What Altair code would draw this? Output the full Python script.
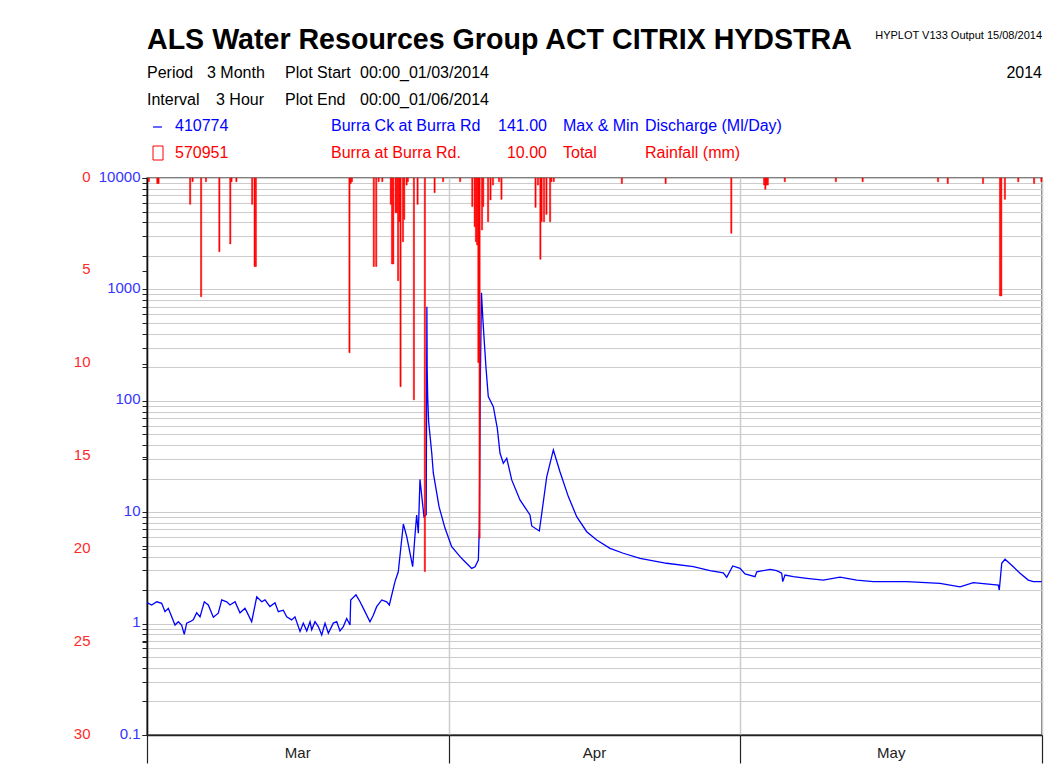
import math
import altair as alt
import pandas as pd

START = pd.Timestamp("2014-03-01T00:00:00")

# Discharge (Ml/Day), station 410774, day offset from 00:00 01/03/2014
flow_day = [0.0, 0.48, 1.0, 1.51, 1.85, 2.19, 2.54, 2.88, 3.22, 3.56,
            3.83, 4.08, 4.42, 4.76, 5.11, 5.45, 5.89, 6.30, 6.82, 7.33,
            7.68, 8.19, 8.53, 9.05, 9.56, 10.07, 10.25, 10.76, 11.28, 11.79,
            12.13, 12.64, 13.16, 13.50, 14.01, 14.36, 14.87, 15.21, 15.73, 16.07,
            16.42, 16.76, 16.93, 17.27, 17.61, 17.96, 18.30, 18.64, 19.15, 19.50,
            19.84, 20.18, 20.53, 20.87, 20.94, 21.48, 21.90, 22.24, 22.92, 23.26,
            23.61, 24.13, 24.64, 24.91, 25.49, 25.83, 26.35, 26.70, 27.31, 27.55,
            27.72, 27.89, 28.06, 28.47, 28.70, 28.77, 28.80, 28.85, 28.95, 29.27,
            29.43, 30.02, 30.63, 31.32, 32.18, 32.51, 33.38, 33.72, 34.06, 34.16,
            34.25, 34.38, 34.51, 34.67, 34.85, 35.08, 35.60, 36.01, 36.29, 36.63,
            36.98, 37.49, 38.34, 39.37, 39.55, 40.33, 41.09, 41.77, 42.45, 43.31,
            44.17, 45.20, 46.23, 47.59, 48.96, 50.68, 53.42, 56.16, 57.87, 59.24,
            59.59, 60.21, 60.96, 61.47, 62.50, 62.68, 64.05, 64.73, 65.24, 65.35,
            65.58, 66.44, 67.82, 69.52, 71.24, 72.95, 74.66, 78.09, 81.52, 83.57,
            84.94, 87.51, 87.61, 87.86, 88.20, 89.05, 89.74, 90.59, 91.11, 91.97]
flow_mld = [1.54, 1.47, 1.57, 1.52, 1.28, 1.37, 1.15, 0.97, 1.04, 0.97,
            0.80, 1.01, 1.04, 1.08, 1.25, 1.15, 1.57, 1.47, 1.14, 1.24,
            1.63, 1.57, 1.47, 1.57, 1.25, 1.37, 1.28, 1.04, 1.74, 1.57,
            1.63, 1.42, 1.54, 1.28, 1.32, 1.15, 1.08, 1.15, 0.85, 1.01,
            0.86, 1.04, 0.88, 1.04, 0.94, 0.79, 1.01, 0.82, 1.01, 1.04,
            0.86, 0.94, 1.11, 0.97, 1.63, 1.81, 1.57, 1.37, 1.04, 1.19,
            1.42, 1.63, 1.57, 1.47, 2.38, 2.92, 7.84, 6.03, 3.24, 6.24,
            9.44, 6.47, 19.7, 9.12, 9.5, 700, 196, 110, 65, 34,
            22.5, 11.2, 7.2, 4.9, 3.99, 3.72, 3.13, 3.24, 3.72, 7.16,
            117, 933, 569, 340, 196, 109, 88.5, 56.6, 33.8, 27.5,
            30.5, 19.5, 12.9, 9.44, 7.52, 6.78, 20.8, 36.2, 23.1, 13.8,
            9.12, 6.68, 5.62, 4.74, 4.28, 3.85, 3.48, 3.24, 2.99, 2.86,
            2.61, 3.29, 3.13, 2.79, 2.64, 2.92, 3.07, 2.99, 2.83, 2.38,
            2.73, 2.64, 2.55, 2.46, 2.61, 2.46, 2.38, 2.38, 2.30, 2.14,
            2.33, 2.22, 2.00, 3.48, 3.78, 3.24, 2.83, 2.46, 2.38, 2.38]

# Rainfall (mm) 3-hour totals, station 570951, day offset
rain_day = [0.13, 1.0, 1.15, 4.42, 4.66, 5.55, 6.06, 7.40, 8.53, 8.7,
            9.2, 10.83, 11.0, 11.15, 20.87, 20.95, 21.1, 23.37, 23.5, 23.75,
            24.2, 25.05, 25.2, 25.35, 25.5, 25.65, 25.77, 25.9, 26.08, 26.25,
            26.38, 26.7, 26.85, 27.45, 27.79, 28.58, 29.6, 30.46, 32.18, 33.48,
            33.65, 33.78, 33.9, 34.02, 34.18, 34.4, 34.57, 35.08, 35.26, 35.5,
            36.22, 36.46, 39.95, 40.2, 40.4, 40.57, 40.8, 41.0, 41.43, 41.6,
            41.75, 48.8, 53.35, 60.0, 63.4, 63.5, 63.65, 63.8, 65.5, 70.8,
            73.57, 81.35, 82.37, 85.97, 87.7, 87.82, 88.2, 89.57, 91.18, 91.9]
rain_mm = [0.2, 0.3, 0.3, 1.42, 0.2, 6.39, 0.2, 3.97, 3.55, 0.2,
           0.2, 1.42, 4.77, 4.77, 9.41, 0.3, 0.2, 4.77, 4.77, 0.2,
           0.2, 1.42, 4.63, 4.63, 1.87, 1.87, 5.53, 2.35, 11.24, 3.43,
           2.23, 0.38, 0.2, 11.95, 1.42, 21.2, 0.79, 0.2, 0.2, 1.54,
           2.62, 3.43, 3.61, 9.94, 19.4, 2.8, 1.54, 2.35, 1.18, 0.38,
           0.2, 1.15, 1.58, 0.38, 4.38, 2.35, 2.35, 1.96, 2.35, 0.2,
           0.2, 0.3, 0.3, 2.98, 0.38, 0.61, 0.38, 0.38, 0.2, 0.2,
           0.2, 0.2, 0.3, 0.3, 6.35, 6.35, 1.15, 0.2, 0.3, 0.2]

months = ["Mar", "Apr", "May"]
month_mid_day = [15.5, 46.0, 76.5]
flow_ticks = [round(m * 10.0 ** e, 6) for e in range(-1, 4) for m in range(1, 10)] + [10000]
rain_ticks = [0, 5, 10, 15, 20, 25, 30]

FONT = "Liberation Sans"
BLUE = "#0000ff"
RED = "#ff0000"

flow = pd.DataFrame({
    "time": [START + pd.Timedelta(days=d) for d in flow_day],
    "q": flow_mld,
})
rain = pd.DataFrame({
    "t0": [START + pd.Timedelta(hours=3 * math.floor(d * 8)) for d in rain_day],
    "t1": [START + pd.Timedelta(hours=3 * math.floor(d * 8) + 3) for d in rain_day],
    "mm": rain_mm,
})
mon = pd.DataFrame({
    "mid": [START + pd.Timedelta(days=d) for d in month_mid_day],
    "m": months,
})

edges = [alt.DateTime(year=2014, month=m, date=1, hours=0) for m in (3, 4, 5, 6)]
xscale = alt.Scale(domain=[edges[0], edges[-1]])
xaxis = alt.Axis(values=edges, labels=False, title=None, tickSize=28, tickColor="#222222",
                 tickWidth=1.2, domainColor="#222222", domainWidth=1.5, grid=True,
                 gridColor="#cccccc", gridWidth=1.5)

flow_axis = alt.Axis(
    values=flow_ticks, orient="left", title=None,
    labelExpr="abs(log(datum.value)/LN10 - round(log(datum.value)/LN10)) < 0.001 ? (datum.value < 1 ? '0.1' : format(datum.value, 'd')) : ''",
    labelColor="#3535ff", labelFont=FONT, labelFontSize=15, labelPadding=2,
    labelOverlap=False, labelBound=False, labelOffset=-2,
    tickSize=5, tickColor="#222222", tickWidth=1,
    domainColor="#111111", domainWidth=1.5,
    grid=True, gridColor="#cccccc", gridWidth=1.2,
)
rain_axis = alt.Axis(
    values=rain_ticks, orient="left", title=None,
    labelColor="#ff2a2a", labelFont=FONT, labelFontSize=15, labelPadding=52,
    labelOverlap=False, labelOffset=-2,
    tickSize=5, tickColor="#222222", tickWidth=1, domain=False, grid=False,
)

flow_line = alt.Chart(flow).mark_line(color=BLUE, strokeWidth=1.3).encode(
    x=alt.X("time:T", scale=xscale, axis=xaxis),
    y=alt.Y("q:Q", scale=alt.Scale(type="log", domain=[0.1, 10000]), axis=flow_axis),
)
rain_bars = alt.Chart(rain).mark_rect(color=RED, stroke=RED, strokeWidth=0.5).encode(
    x=alt.X("t0:T", scale=xscale, axis=xaxis),
    x2="t1:T",
    y=alt.Y("mm:Q", scale=alt.Scale(domain=[0, 30], reverse=True), axis=rain_axis),
    y2=alt.datum(0),
)
month_text = alt.Chart(mon).mark_text(font=FONT, fontSize=15, color="#222222",
                                      baseline="middle", align="center").encode(
    x=alt.X("mid:T", scale=xscale, axis=xaxis),
    y=alt.value(575),
    text="m:N",
)

one = pd.DataFrame({"k": [0]})


def txt(s, x, y, color="#000000", size=16, align="left", weight="normal"):
    return alt.Chart(one).mark_text(text=s, font=FONT, fontSize=size, color=color,
                                    align=align, baseline="middle",
                                    fontWeight=weight).encode(x=alt.value(x), y=alt.value(y))


header = [
    txt("ALS Water Resources Group ACT CITRIX HYDSTRA", 0, -138, size=28.6, weight="bold"),
    txt("HYPLOT V133  Output 15/08/2014", 895, -142, size=11, align="right"),
    txt("Period", 0, -105), txt("3 Month", 60, -105), txt("Plot Start", 138, -105),
    txt("00:00_01/03/2014", 213, -105), txt("2014", 895, -105, align="right"),
    txt("Interval", 0, -78), txt("3 Hour", 69, -78), txt("Plot End", 138, -78),
    txt("00:00_01/06/2014", 213, -78),
    txt("410774", 28, -52, color=BLUE), txt("Burra Ck at Burra Rd", 184, -52, color=BLUE),
    txt("141.00", 400, -52, color=BLUE, align="right"), txt("Max & Min", 416, -52, color=BLUE),
    txt("Discharge (Ml/Day)", 498, -52, color=BLUE),
    txt("570951", 28, -25, color=RED), txt("Burra at Burra Rd.", 184, -25, color=RED),
    txt("10.00", 400, -25, color=RED, align="right"), txt("Total", 416, -25, color=RED),
    txt("Rainfall (mm)", 498, -25, color=RED),
]
legend_dash = alt.Chart(one).mark_rule(color=BLUE, strokeWidth=1.2).encode(
    x=alt.value(6), x2=alt.value(15), y=alt.value(-51))
legend_box = alt.Chart(one).mark_rect(fillOpacity=0, stroke=RED, strokeWidth=1).encode(
    x=alt.value(6), x2=alt.value(16), y=alt.value(-32), y2=alt.value(-18))

chart = alt.layer(flow_line, rain_bars, month_text, legend_dash, legend_box, *header).resolve_scale(
    y="independent"
).properties(
    width=895, height=557,
    autosize=alt.AutoSizeParams(type="none"),
    padding={"left": 139, "top": 170, "right": 14, "bottom": 40},
    background="white",
).configure_view(stroke="#555555", strokeWidth=1.5)

chart.save("out.html", embed_options={"renderer": "svg", "actions": False})
